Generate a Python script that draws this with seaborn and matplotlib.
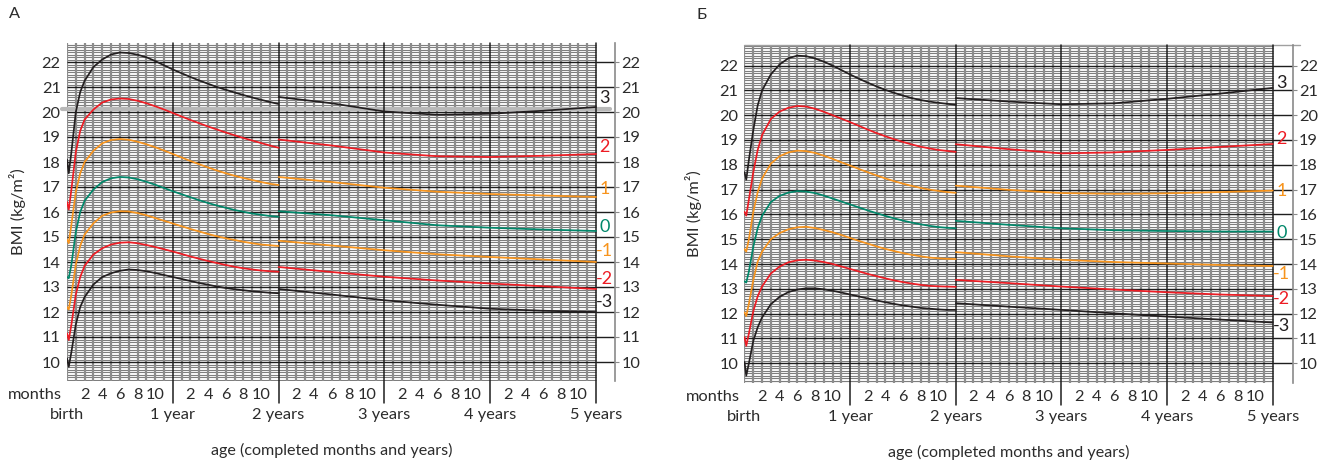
import numpy as np
import pandas as pd
import matplotlib
matplotlib.use("Agg")
import matplotlib.pyplot as plt
import seaborn as sns

# ─── Data: BMI-for-age z-score curves ─────────────────────────────────────────
Z_LABELS = ["3", "2", "1", "0", "-1", "-2", "-3"]

# age in months: birth..2 years (length) and 2..5 years (height)
AGE_0_2 = [0, 0.2, 0.5, 1, 1.5, 2, 3, 4, 5, 6, 7, 8, 9, 10, 11, 12,
           13, 14, 15, 16, 17, 18, 19, 20, 21, 22, 23, 24]
AGE_2_5 = [24, 30, 36, 42, 48, 54, 60]

# panel A (boys), birth..2 years
boys_p3 = [18.1, 17.55, 18.4, 20.0, 20.8, 21.25, 21.8, 22.1, 22.3, 22.38, 22.36, 22.29, 22.19, 22.04,
           21.87, 21.7, 21.55, 21.4, 21.26, 21.13, 21.0, 20.89, 20.78, 20.68, 20.58, 20.49, 20.4, 20.32]
boys_p2 = [16.4, 16.1, 16.9, 18.4, 19.25, 19.7, 20.1, 20.38, 20.5, 20.54, 20.52, 20.45, 20.35, 20.23,
           20.1, 19.96, 19.82, 19.68, 19.55, 19.42, 19.3, 19.18, 19.07, 18.96, 18.86, 18.76, 18.66, 18.57]
boys_p1 = [14.9, 14.75, 15.5, 16.8, 17.55, 18.0, 18.45, 18.75, 18.88, 18.92, 18.89, 18.81, 18.71, 18.59,
           18.46, 18.32, 18.18, 18.04, 17.91, 17.78, 17.66, 17.55, 17.45, 17.36, 17.28, 17.2, 17.13, 17.08]
boys_0 = [13.4, 13.35, 13.9, 15.2, 16.0, 16.45, 16.9, 17.2, 17.35, 17.4, 17.38, 17.31, 17.21, 17.09,
          16.96, 16.83, 16.71, 16.59, 16.47, 16.36, 16.26, 16.17, 16.08, 16.01, 15.94, 15.89, 15.84, 15.81]
boys_m1 = [12.2, 12.1, 12.7, 13.9, 14.65, 15.1, 15.55, 15.85, 15.98, 16.03, 16.02, 15.96, 15.87, 15.76,
           15.65, 15.54, 15.43, 15.32, 15.22, 15.12, 15.03, 14.95, 14.88, 14.81, 14.75, 14.7, 14.67, 14.64]
boys_m2 = [11.15, 10.88, 11.5, 12.7, 13.4, 13.85, 14.3, 14.55, 14.7, 14.77, 14.79, 14.75, 14.68, 14.6,
           14.51, 14.42, 14.32, 14.22, 14.13, 14.04, 13.96, 13.88, 13.81, 13.75, 13.7, 13.66, 13.63, 13.61]
boys_m3 = [10.15, 9.81, 10.4, 11.5, 12.2, 12.6, 13.1, 13.4, 13.55, 13.65, 13.7, 13.68, 13.63, 13.56,
           13.48, 13.4, 13.32, 13.24, 13.16, 13.09, 13.02, 12.96, 12.91, 12.87, 12.83, 12.8, 12.77, 12.75]

# panel A (boys), 2..5 years
boys_p3_late = [20.6, 20.35, 20.02, 19.89, 19.93, 20.05, 20.2]
boys_p2_late = [18.9, 18.66, 18.38, 18.23, 18.2, 18.25, 18.32]
boys_p1_late = [17.4, 17.2, 16.97, 16.81, 16.72, 16.66, 16.6]
boys_0_late = [16.03, 15.87, 15.67, 15.47, 15.37, 15.3, 15.24]
boys_m1_late = [14.85, 14.66, 14.47, 14.31, 14.2, 14.1, 14.0]
boys_m2_late = [13.8, 13.6, 13.41, 13.26, 13.14, 13.03, 12.92]
boys_m3_late = [12.92, 12.7, 12.47, 12.29, 12.13, 12.05, 12.0]

# panel Б (girls), birth..2 years
girls_p3 = [17.7, 17.4, 18.2, 19.4, 20.4, 21.0, 21.65, 22.05, 22.3, 22.4, 22.38, 22.29, 22.16, 22.0,
            21.82, 21.64, 21.47, 21.31, 21.16, 21.02, 20.9, 20.79, 20.69, 20.61, 20.55, 20.5, 20.46, 20.42]
girls_p2 = [16.1, 15.95, 16.6, 17.7, 18.6, 19.2, 19.85, 20.15, 20.3, 20.37, 20.35, 20.26, 20.14, 20.0,
            19.86, 19.72, 19.57, 19.42, 19.28, 19.15, 19.03, 18.92, 18.82, 18.73, 18.66, 18.6, 18.56, 18.52]
girls_p1 = [14.6, 14.5, 15.0, 16.1, 16.9, 17.45, 18.05, 18.35, 18.5, 18.57, 18.55, 18.48, 18.37, 18.24,
            18.1, 17.97, 17.83, 17.7, 17.57, 17.45, 17.34, 17.24, 17.15, 17.07, 17.0, 16.95, 16.9, 16.87]
girls_0 = [13.3, 13.25, 13.7, 14.7, 15.45, 15.95, 16.5, 16.75, 16.88, 16.94, 16.92, 16.86, 16.76, 16.64,
           16.52, 16.4, 16.28, 16.16, 16.05, 15.94, 15.84, 15.75, 15.67, 15.6, 15.54, 15.49, 15.46, 15.44]
girls_m1 = [12.05, 11.9, 12.4, 13.35, 14.1, 14.5, 15.0, 15.25, 15.4, 15.48, 15.5, 15.45, 15.37, 15.28,
            15.17, 15.05, 14.93, 14.82, 14.71, 14.61, 14.52, 14.44, 14.37, 14.31, 14.26, 14.23, 14.21, 14.2]
girls_m2 = [11.05, 10.7, 11.2, 12.1, 12.7, 13.1, 13.62, 13.9, 14.07, 14.15, 14.17, 14.14, 14.08, 14.0,
            13.9, 13.8, 13.7, 13.6, 13.51, 13.42, 13.34, 13.27, 13.21, 13.16, 13.12, 13.1, 13.09, 13.08]
girls_m3 = [10.05, 9.5, 10.0, 10.9, 11.45, 11.85, 12.38, 12.68, 12.87, 12.97, 13.02, 13.02, 12.98, 12.92,
            12.85, 12.77, 12.69, 12.61, 12.53, 12.46, 12.39, 12.33, 12.28, 12.23, 12.2, 12.17, 12.15, 12.15]

# panel Б (girls), 2..5 years
girls_p3_late = [20.69, 20.55, 20.44, 20.48, 20.66, 20.87, 21.1]
girls_p2_late = [18.83, 18.63, 18.46, 18.5, 18.6, 18.72, 18.84]
girls_p1_late = [17.16, 16.99, 16.86, 16.83, 16.85, 16.9, 16.96]
girls_0_late = [15.74, 15.58, 15.44, 15.36, 15.33, 15.31, 15.31]
girls_m1_late = [14.48, 14.31, 14.17, 14.08, 14.02, 13.96, 13.92]
girls_m2_late = [13.36, 13.23, 13.09, 12.97, 12.86, 12.77, 12.71]
girls_m3_late = [12.42, 12.28, 12.15, 12.01, 11.88, 11.76, 11.64]

MONTH_TICKS = [2, 4, 6, 8, 10]
YEAR_LABELS = ["birth", "1 year", "2 years", "3 years", "4 years", "5 years"]
BMI_TICKS = list(range(10, 23))

# ─── Style ────────────────────────────────────────────────────────────────────
BLACK, RED, ORANGE, GREEN = "#231f20", "#ed1c24", "#f7941d", "#00876a"
PALETTE = {"3": BLACK, "2": RED, "1": ORANGE, "0": GREEN,
           "-1": ORANGE, "-2": RED, "-3": BLACK}
TXT = "#2b2b2b"
FS = 11.8
W, H = 1322, 463


def curves_frame(early, late):
    rows = []
    for z, e, l in zip(Z_LABELS, early, late):
        rows += [(z, z + "a", m, v) for m, v in zip(AGE_0_2, e)]
        rows += [(z, z + "b", m, v) for m, v in zip(AGE_2_5, l)]
    return pd.DataFrame(rows, columns=["z", "seg", "month", "bmi"])


def add_axes_px(fig, left, top, right, bottom):
    return fig.add_axes([left / W, 1 - bottom / H, (right - left) / W, (bottom - top) / H])


def draw_panel(ax, df, xlim, ylim, label_dy):
    y0, y1 = ylim
    ax.set_xlim(*xlim)
    ax.set_ylim(*ylim)

    # ── grid paper ──
    fine = np.round(np.arange(np.ceil(y0 * 10) / 10, y1, 0.1), 1)
    fine = fine[np.abs(fine - np.round(fine)) > 1e-6]
    ax.hlines(fine, 0, 60, color="#7e7e7e", lw=0.8, zorder=1)
    months = [m for m in range(0, 60) if m % 12]
    ax.vlines([0] + months, y0, y1, color="#8c8c8c", lw=1.6, zorder=1.2)
    ax.hlines(BMI_TICKS, 0, xlim[1], color="#1e1e1e", lw=1.0, zorder=2)
    for yr in range(1, 6):
        ax.axvline(12 * yr, ymin=-0.065, ymax=1, color="#1e1e1e", lw=1.1,
                   clip_on=False, zorder=2)

    # ── curves ──
    sns.lineplot(data=df, x="month", y="bmi", hue="z", units="seg",
                 estimator=None, palette=PALETTE, lw=1.25, legend=False,
                 ax=ax, zorder=4)
    ax.set_xlabel("")
    ax.set_ylabel("")

    # z-score labels at the right end
    ends = df[df["month"] == 60].set_index("z")["bmi"]
    for z, dy in zip(Z_LABELS, label_dy):
        ax.text(61.0, ends[z] + dy, z, color=PALETTE[z], fontsize=13,
                ha="center", va="center", zorder=5)

    # ── axes / ticks ──
    for side in ["top", "bottom", "left"]:
        ax.spines[side].set_visible(False)
    ax.spines["right"].set_color("#8a8a8a")
    ax.spines["right"].set_linewidth(1.2)
    ax.set_xticks([])
    ax.set_yticks(BMI_TICKS)
    ax.tick_params(axis="y", left=False, right=True, labelleft=True,
                   labelright=True, length=3, pad=1.6, color="#8a8a8a",
                   labelsize=FS, labelcolor=TXT)

    # ── age axis texts ──
    ax.annotate("months", xy=(0, 0), xycoords="axes fraction", xytext=(-5, -14),
                textcoords="offset pixels", ha="right", va="center",
                fontsize=FS, color=TXT)
    for yr in range(5):
        for m in MONTH_TICKS:
            ax.annotate(str(m), xy=(12 * yr + m, 0), xycoords=("data", "axes fraction"),
                        xytext=(0, -14), textcoords="offset pixels",
                        ha="center", va="center", fontsize=FS, color=TXT)
    for yr, lab in enumerate(YEAR_LABELS):
        ax.annotate(lab, xy=(12 * yr, 0), xycoords=("data", "axes fraction"),
                    xytext=(0, -34), textcoords="offset pixels",
                    ha="center", va="center", fontsize=FS, color=TXT)
    ax.annotate("age (completed months and years)", xy=(30, 0),
                xycoords=("data", "axes fraction"), xytext=(0, -69),
                textcoords="offset pixels", ha="center", va="center",
                fontsize=11.6, color=TXT)


def main():
    sns.set_style("white")
    plt.rcParams["font.family"] = ["Lato", "DejaVu Sans"]

    fig = plt.figure(figsize=(W / 100, H / 100), dpi=100)

    # ── Panel A ──
    boys = curves_frame(
        [boys_p3, boys_p2, boys_p1, boys_0, boys_m1, boys_m2, boys_m3],
        [boys_p3_late, boys_p2_late, boys_p1_late, boys_0_late,
         boys_m1_late, boys_m2_late, boys_m3_late])
    ax_a = add_axes_px(fig, 67, 43, 615, 381)
    # faint double line across the scan around 20.1
    ax_a.plot([-0.6, 61.6], [20.13, 20.13], color="#b8b8b8", lw=3.0,
              clip_on=False, zorder=1.6)
    draw_panel(ax_a, boys, (0, 62.15), (9.24, 22.76),
               [0.35, 0.3, 0.32, 0.14, 0.45, 0.4, 0.4])

    # ── Panel Б ──
    girls = curves_frame(
        [girls_p3, girls_p2, girls_p1, girls_0, girls_m1, girls_m2, girls_m3],
        [girls_p3_late, girls_p2_late, girls_p1_late, girls_0_late,
         girls_m1_late, girls_m2_late, girls_m3_late])
    ax_b = add_axes_px(fig, 744.5, 45, 1292.7, 383.3)
    ax_b.plot([0, 63.1], [22.83, 22.83], color="#a0a0a0", lw=1.0,
              clip_on=False, zorder=2)
    draw_panel(ax_b, girls, (0, 62.27), (9.19, 22.83),
               [0.2, 0.2, 0.0, -0.06, -0.32, -0.12, -0.12])

    # ── panel letters and y labels ──
    fig.text(14 / W, 1 - 14 / H, "А", ha="center", va="center", fontsize=FS, color=TXT)
    fig.text(702 / W, 1 - 15 / H, "Б", ha="center", va="center", fontsize=FS, color=TXT)
    fig.text(18 / W, 1 - 212 / H, "BMI (kg/m²)", rotation=90, ha="center",
             va="center", fontsize=FS, color=TXT)
    fig.text(694 / W, 1 - 214 / H, "BMI (kg/m²)", rotation=90, ha="center",
             va="center", fontsize=FS, color=TXT)

    fig.savefig("out.png", dpi=100)
    plt.close(fig)


if __name__ == "__main__":
    main()
